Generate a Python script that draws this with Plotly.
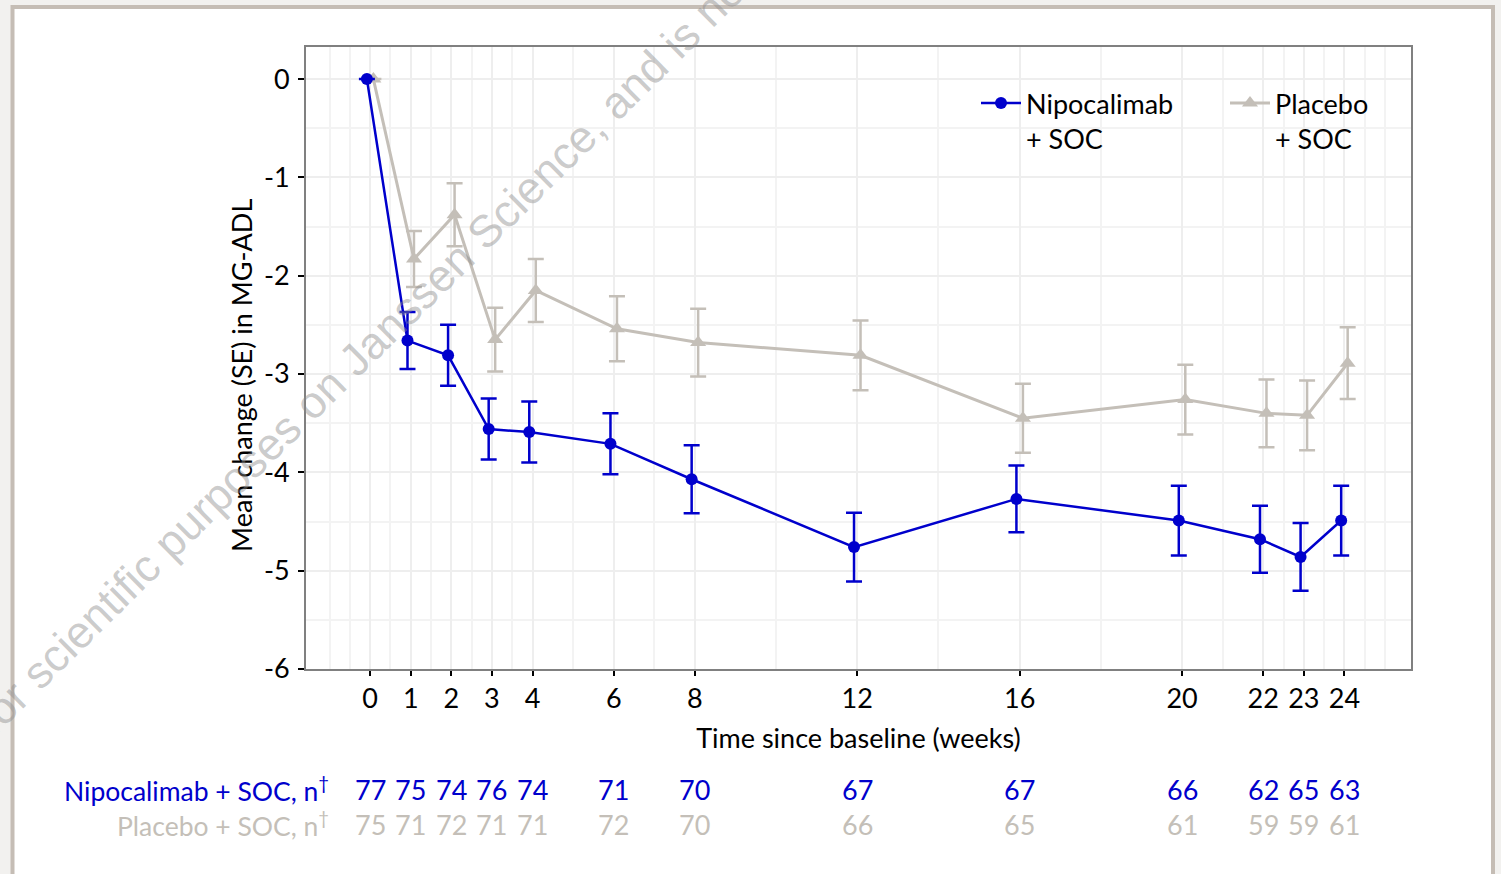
import plotly.graph_objects as go

# ---------------- data ----------------
weeks = [0, 1, 2, 3, 4, 6, 8, 12, 16, 20, 22, 23, 24]
nipo_mean = [0.0, -2.66, -2.81, -3.56, -3.59, -3.71, -4.07, -4.76, -4.27, -4.49, -4.68, -4.86, -4.49]
nipo_se = [0.0, 0.29, 0.31, 0.31, 0.31, 0.31, 0.345, 0.35, 0.34, 0.355, 0.34, 0.345, 0.355]
pbo_mean = [0.0, -1.83, -1.38, -2.65, -2.15, -2.54, -2.68, -2.81, -3.45, -3.26, -3.40, -3.42, -2.89]
pbo_se = [0.0, 0.285, 0.32, 0.325, 0.32, 0.33, 0.345, 0.355, 0.35, 0.355, 0.345, 0.355, 0.365]
nipo_n = [77, 75, 74, 76, 74, 71, 70, 67, 67, 66, 62, 65, 63]
pbo_n = [75, 71, 72, 71, 71, 72, 70, 66, 65, 61, 59, 59, 61]
y_ticks = [0, -1, -2, -3, -4, -5, -6]
y_minor = [-0.5, -1.5, -2.5, -3.5, -4.5, -5.5]
x_minor = [-1, -0.5, 0.5, 1.5, 2.5, 3.5, 5, 7, 10, 14, 18, 21, 22.5, 23.5, 24.5, 25]

nipo_name = "Nipocalimab<br>+ SOC"
pbo_name = "Placebo<br>+ SOC"
nipo_row = "Nipocalimab + SOC, n<sup>†</sup>"
pbo_row = "Placebo + SOC, n<sup>†</sup>"
x_title = "Time since baseline (weeks)"
y_title = "Mean change (SE) in MG-ADL"
watermark = "for scientific purposes on Janssen Science, and is not"

# ---------------- style ----------------
BLUE = "#0000cc"
GREY = "#c4bfb8"
FONT = "Lato"
FS = 27
W, H = 1501, 874
ML, MR, MT, MB = 306, 90, 47, 205
PW, PH = W - ML - MR, H - MT - MB
DODGE = 0.08


def px_x(px):
    return (px - ML) / PW


def px_y(py):
    return 1 - (py - MT) / PH


fig = go.Figure()

fig.add_trace(go.Scatter(
    x=[w + DODGE for w in weeks], y=pbo_mean, name=pbo_name, mode="lines+markers",
    line=dict(color=GREY, width=3),
    marker=dict(symbol="triangle-up", size=14, color=GREY),
    error_y=dict(type="data", array=pbo_se, color=GREY, thickness=2.5, width=8),
    legendrank=2,
))
fig.add_trace(go.Scatter(
    x=[w - DODGE for w in weeks], y=nipo_mean, name=nipo_name, mode="lines+markers",
    line=dict(color=BLUE, width=2.5),
    marker=dict(symbol="circle", size=12, color=BLUE),
    error_y=dict(type="data", array=nipo_se, color=BLUE, thickness=2.5, width=8),
    legendrank=1,
))

annotations = []
# n-at-risk rows
annotations.append(dict(text=nipo_row, x=px_x(331), y=px_y(789), xref="paper", yref="paper",
                        xanchor="right", yanchor="middle", showarrow=False,
                        font=dict(family=FONT, size=26.5, color=BLUE)))
annotations.append(dict(text=pbo_row, x=px_x(331), y=px_y(824), xref="paper", yref="paper",
                        xanchor="right", yanchor="middle", showarrow=False,
                        font=dict(family=FONT, size=26.5, color=GREY)))
for w, n1, n2 in zip(weeks, nipo_n, pbo_n):
    annotations.append(dict(text=str(n1), x=w, y=px_y(789), xref="x", yref="paper",
                            xanchor="center", yanchor="middle", showarrow=False,
                            font=dict(family=FONT, size=FS, color=BLUE)))
    annotations.append(dict(text=str(n2), x=w, y=px_y(824), xref="x", yref="paper",
                            xanchor="center", yanchor="middle", showarrow=False,
                            font=dict(family=FONT, size=FS, color=GREY)))
# y axis title
annotations.append(dict(text=y_title, x=px_x(241), y=px_y(376), xref="paper", yref="paper",
                        textangle=-90, xanchor="center", yanchor="middle", showarrow=False,
                        font=dict(family=FONT, size=FS, color="black")))
# watermark
annotations.append(dict(text=watermark, x=px_x(364), y=px_y(350), xref="paper", yref="paper",
                        textangle=-44.6, xanchor="center", yanchor="middle", showarrow=False,
                        font=dict(family="Liberation Sans", size=45, color="rgba(140,140,140,0.45)")))

shapes = [dict(type="rect", xref="paper", yref="paper", layer="below",
               x0=px_x(12.5), x1=px_x(1493), y0=px_y(885), y1=px_y(7),
               line=dict(color="#c5bdb5", width=4), fillcolor="white")]

fig.update_layout(
    width=W, height=H,
    margin=dict(l=ML, r=MR, t=MT, b=MB, autoexpand=False),
    paper_bgcolor="#f2f1ef", plot_bgcolor="white",
    font=dict(family=FONT, size=FS, color="black"),
    showlegend=True,
    legend=dict(orientation="h", x=px_x(976), y=px_y(79), xanchor="left", yanchor="top",
                valign="top", bgcolor="rgba(0,0,0,0)", itemwidth=40,
                entrywidth=194, entrywidthmode="pixels",
                font=dict(family=FONT, size=FS, color="black")),
    annotations=annotations, shapes=shapes,
)

fig.update_xaxes(
    range=[-1.58, 25.64], tickmode="array", tickvals=weeks, ticktext=[str(w) for w in weeks],
    ticks="outside", ticklen=5, tickwidth=2, tickcolor="black",
    showline=True, linecolor="#808080", linewidth=2, mirror=True,
    showgrid=True, gridcolor="#eeeeee", gridwidth=2, zeroline=False,
    minor=dict(tickmode="array", tickvals=x_minor, showgrid=True, gridcolor="#f3f3f3", gridwidth=1.5, ticks=""),
    tickfont=dict(family=FONT, size=FS, color="black"), ticklabelstandoff=0,
    title=dict(text=x_title, font=dict(family=FONT, size=FS, color="black"), standoff=16),
)
fig.update_yaxes(
    range=[-6, 0.326], tickmode="array", tickvals=y_ticks, ticktext=[str(v) for v in y_ticks],
    ticks="outside", ticklen=6, tickwidth=2, tickcolor="black",
    showline=True, linecolor="#808080", linewidth=2, mirror=True,
    showgrid=True, gridcolor="#eeeeee", gridwidth=2, zeroline=False,
    minor=dict(tickmode="array", tickvals=y_minor, showgrid=True, gridcolor="#f3f3f3", gridwidth=1.5, ticks=""),
    tickfont=dict(family=FONT, size=FS, color="black"), ticklabelstandoff=3,
)

fig.write_html("out.html", config={"displayModeBar": False},
               post_script="document.body.style.margin='0';document.body.style.overflow='hidden';")
